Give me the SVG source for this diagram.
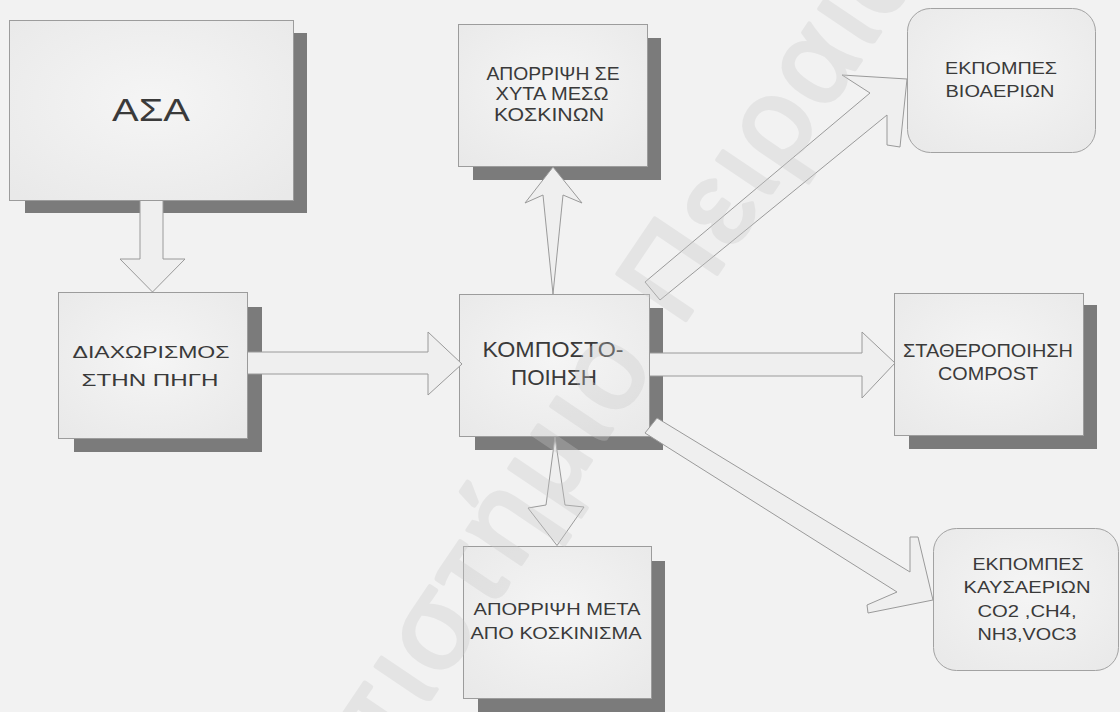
<svg xmlns="http://www.w3.org/2000/svg" width="1120" height="712" viewBox="0 0 1120 712">
<defs>
<radialGradient id="boxg" cx="50%" cy="45%" r="70%">
<stop offset="0" stop-color="#f5f5f5"/>
<stop offset="1" stop-color="#e9e9e9"/>
</radialGradient>
</defs>
<style>
.bg{fill:#f2f2f2}
.shadow{fill:#7b7b7b}
.box{fill:url(#boxg);stroke:#9c9c9c;stroke-width:1}
.rbox{fill:url(#boxg);stroke:#a2a2a2;stroke-width:1}
.arrow{fill:#efefef;stroke:#9a9a9a;stroke-width:1;stroke-linejoin:miter}
.t{font-family:"Liberation Sans",Arial,sans-serif;fill:#3a3a3a;text-anchor:middle}
.wm{font-family:"Liberation Sans",Arial,sans-serif;fill:#c8c8c8;stroke:#c8c8c8;stroke-width:4;stroke-linejoin:round;stroke-linecap:round;opacity:0.32;font-size:120px;letter-spacing:6px}
</style>
<rect class="bg" x="0" y="0" width="1120" height="712"/>

<g id="node-asa">
<rect class="shadow" x="25" y="33" width="282" height="180"/>
<rect class="box" x="9.5" y="20.5" width="284" height="180"/>
<text class="t" x="151" y="121" font-size="31" textLength="78" lengthAdjust="spacingAndGlyphs">ΑΣΑ</text>
</g>

<g id="node-diaxorismos">
<rect class="shadow" x="74" y="307" width="188" height="145"/>
<rect class="box" x="58.5" y="292.5" width="189" height="146"/>
<text class="t" x="151" y="358" font-size="17" textLength="157" lengthAdjust="spacingAndGlyphs">ΔΙΑΧΩΡΙΣΜΟΣ</text>
<text class="t" x="150" y="386" font-size="17" textLength="137" lengthAdjust="spacingAndGlyphs">ΣΤΗΝ ΠΗΓΗ</text>
</g>

<g id="node-kompostopoiisi">
<rect class="shadow" x="475" y="308" width="188" height="142"/>
<rect class="box" x="459.5" y="294.5" width="190" height="142"/>
<text class="t" x="553" y="357" font-size="22" textLength="141" lengthAdjust="spacingAndGlyphs">ΚΟΜΠΟΣΤΟ-</text>
<text class="t" x="554" y="385" font-size="22" textLength="86" lengthAdjust="spacingAndGlyphs">ΠΟΙΗΣΗ</text>
</g>

<g id="node-aporripsi-xyta">
<rect class="shadow" x="473" y="38" width="188" height="142"/>
<rect class="box" x="458.5" y="24.5" width="189" height="142"/>
<text class="t" x="553" y="80" font-size="18" textLength="133" lengthAdjust="spacingAndGlyphs">ΑΠΟΡΡΙΨΗ ΣΕ</text>
<text class="t" x="552" y="100" font-size="18" textLength="113" lengthAdjust="spacingAndGlyphs">ΧΥΤΑ ΜΕΣΩ</text>
<text class="t" x="549" y="121" font-size="18" textLength="110" lengthAdjust="spacingAndGlyphs">ΚΟΣΚΙΝΩΝ</text>
</g>

<g id="node-statheropoiisi">
<rect class="shadow" x="909" y="305" width="188" height="144"/>
<rect class="box" x="894.5" y="293.5" width="189" height="142"/>
<text class="t" x="988" y="357" font-size="18" textLength="170" lengthAdjust="spacingAndGlyphs">ΣΤΑΘΕΡΟΠΟΙΗΣΗ</text>
<text class="t" x="988" y="380" font-size="18" textLength="100" lengthAdjust="spacingAndGlyphs">COMPOST</text>
</g>

<g id="node-aporripsi-meta">
<rect class="shadow" x="478" y="561" width="187" height="151"/>
<rect class="box" x="463.5" y="546.5" width="188" height="152"/>
<text class="t" x="557" y="615" font-size="17" textLength="167" lengthAdjust="spacingAndGlyphs">ΑΠΟΡΡΙΨΗ ΜΕΤΑ</text>
<text class="t" x="556" y="639" font-size="17" textLength="171" lengthAdjust="spacingAndGlyphs">ΑΠΟ ΚΟΣΚΙΝΙΣΜΑ</text>
</g>

<g id="node-ekpompes-bioaerion">
<rect class="rbox" x="907.5" y="8.5" width="188" height="144" rx="23" ry="23"/>
<text class="t" x="1001" y="74" font-size="17" textLength="112" lengthAdjust="spacingAndGlyphs">ΕΚΠΟΜΠΕΣ</text>
<text class="t" x="1000" y="97" font-size="17" textLength="109" lengthAdjust="spacingAndGlyphs">ΒΙΟΑΕΡΙΩΝ</text>
</g>

<g id="node-ekpompes-kausaerion">
<rect class="rbox" x="933.5" y="528.5" width="185" height="142" rx="23" ry="23"/>
<text class="t" x="1028" y="570" font-size="16.5" textLength="111" lengthAdjust="spacingAndGlyphs">ΕΚΠΟΜΠΕΣ</text>
<text class="t" x="1027" y="593" font-size="16.5" textLength="127" lengthAdjust="spacingAndGlyphs">ΚΑΥΣΑΕΡΙΩΝ</text>
<text class="t" x="1027" y="617" font-size="16.5" textLength="99" lengthAdjust="spacingAndGlyphs">CO2 ,CH4,</text>
<text class="t" x="1027" y="640" font-size="16.5" textLength="99" lengthAdjust="spacingAndGlyphs">NH3,VOC3</text>
</g>

<g id="connectors">
<polygon class="arrow" points="140,200.5 163,200.5 163,259 185,259 152.5,292 120,259 140,259"/>
<polygon class="arrow" points="247.5,352 428,352 428,332 462,364 428,395 428,374 247.5,374"/>
<polygon class="arrow" points="649.5,353 862,353 862,332 895,363 862,398 862,376 649.5,376"/>
<polygon class="arrow" points="553,294 543,195 525,203 553,167 582,203 563,195"/>
<polygon class="arrow" points="555,437 565,505 584,507 557,545.5 528,508 546,505"/>
<polygon class="arrow" points="645,282 870,93 842,75 907,79 900,147 887,145 887,115 660,300"/>
<polygon class="arrow" points="657,418 910,572 910,537 918,537 933,600 868,613 867,605 897,592 645,433"/>
</g>

<g id="watermark" transform="translate(600,390) rotate(-56)">
<text class="wm" x="-745" y="32">Πανεπιστήμιο Πειραιώς</text>
</g>
</svg>
